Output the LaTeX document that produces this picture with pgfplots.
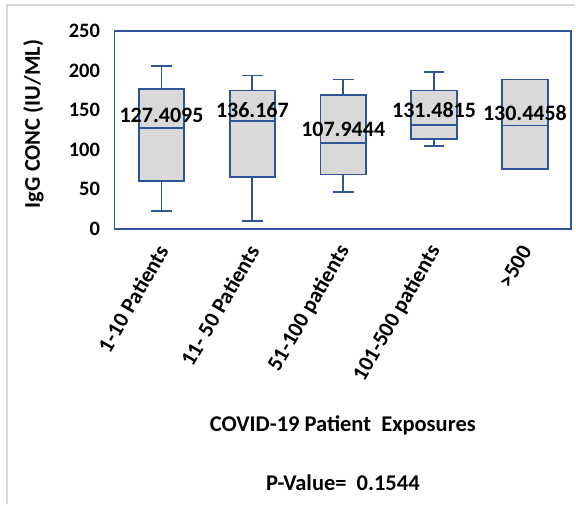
\documentclass[border=0pt]{standalone}
\usepackage{pgfplots}
\pgfplotsset{compat=1.18}
\usepackage{fontspec}
\setmainfont{Carlito}
\definecolor{boxblue}{HTML}{2F5597}
\definecolor{boxgray}{HTML}{D9D9D9}
\definecolor{frgray}{HTML}{D9D9D9}
\begin{document}
\begin{tikzpicture}
\draw[frgray, line width=1.5bp] (7bp,0bp) -- (7bp,500bp) -- (576bp,500bp);
\begin{axis}[
  at={(114.6bp,276bp)}, anchor=south west,
  scale only axis, width=457.4bp, height=198bp,
  xmin=0.482, xmax=5.51, ymin=0, ymax=250,
  axis line style={boxblue, line width=1.8bp},
  ytick={0,50,100,150,200,250},
  xtick={1,2,3,4,5},
  xticklabels={1-10 Patients,11- 50 Patients,51-100 patients,101-500 patients,>500},
  tick style={draw=none},
  /pgf/number format/assume math mode=true,
  yticklabel style={font=\fontsize{20.5bp}{24bp}\selectfont\bfseries, xshift=-11bp},
  xticklabel style={font=\fontsize{22bp}{26bp}\selectfont\bfseries, xshift=3bp, yshift=-15.5bp, rotate=60, anchor=east},
  ylabel={IgG CONC (IU/ML)},
  ylabel style={font=\fontsize{22.5bp}{26bp}\selectfont\bfseries, at={(axis description cs:-0.1776,0.53)}, anchor=center},
  xlabel={COVID-19 Patient\ \ Exposures},
  xlabel style={font=\fontsize{22.5bp}{26bp}\selectfont\bfseries, at={(axis description cs:0.5,-0.995)}, anchor=center},
  clip=false,
  unbounded coords=jump,
]
% whiskers and caps
\addplot[boxblue, line width=1.8bp] coordinates {
(1,176.8) (1,205.4) (nan,nan) (0.8865,205.4) (1.1135,205.4) (nan,nan)
(1,59.9) (1,21.9) (nan,nan) (0.8865,21.9) (1.1135,21.9) (nan,nan)
(2,174.7) (2,193.7) (nan,nan) (1.8865,193.7) (2.1135,193.7) (nan,nan)
(2,64.9) (2,10.1) (nan,nan) (1.8865,10.1) (2.1135,10.1) (nan,nan)
(3,168.7) (3,188.6) (nan,nan) (2.8865,188.6) (3.1135,188.6) (nan,nan)
(3,68.4) (3,46.0) (nan,nan) (2.8865,46.0) (3.1135,46.0) (nan,nan)
(4,174.7) (4,198.4) (nan,nan) (3.8865,198.4) (4.1135,198.4) (nan,nan)
(4,113.5) (4,104.2) (nan,nan) (3.8865,104.2) (4.1135,104.2)
};
% boxes
\addplot[draw=boxblue, fill=boxgray, line width=1.8bp] coordinates {(0.75,59.9) (1.25,59.9) (1.25,176.8) (0.75,176.8)} --cycle;
\addplot[draw=boxblue, fill=boxgray, line width=1.8bp] coordinates {(1.75,64.9) (2.25,64.9) (2.25,174.7) (1.75,174.7)} --cycle;
\addplot[draw=boxblue, fill=boxgray, line width=1.8bp] coordinates {(2.75,68.4) (3.25,68.4) (3.25,168.7) (2.75,168.7)} --cycle;
\addplot[draw=boxblue, fill=boxgray, line width=1.8bp] coordinates {(3.75,113.5) (4.25,113.5) (4.25,174.7) (3.75,174.7)} --cycle;
\addplot[draw=boxblue, fill=boxgray, line width=1.8bp] coordinates {(4.75,75.6) (5.25,75.6) (5.25,188.6) (4.75,188.6)} --cycle;
% medians
\addplot[boxblue, line width=1.8bp] coordinates {
(0.75,127.4095) (1.25,127.4095) (nan,nan)
(1.75,136.167) (2.25,136.167) (nan,nan)
(2.75,107.9444) (3.25,107.9444) (nan,nan)
(3.75,131.4815) (4.25,131.4815) (nan,nan)
(4.75,130.4458) (5.25,130.4458)
};
% median labels
\addplot[only marks, mark=none, point meta=explicit symbolic,
  nodes near coords,
  nodes near coords style={anchor=center, font=\fontsize{22bp}{26bp}\selectfont\bfseries, text=black, inner sep=0pt}]
  table[meta=label] {
x y label
1 143.9 127.4095
2 150.3 136.167
3 125.0 107.9444
4 150.3 131.4815
5 146.5 130.4458
};
\node[font=\fontsize{22.5bp}{26bp}\selectfont\bfseries, anchor=center] at (axis description cs:0.5,-1.283) {P-Value=\ \ 0.1544};
\end{axis}
\useasboundingbox (0bp,0bp) rectangle (576bp,505bp);
\end{tikzpicture}
\end{document}
